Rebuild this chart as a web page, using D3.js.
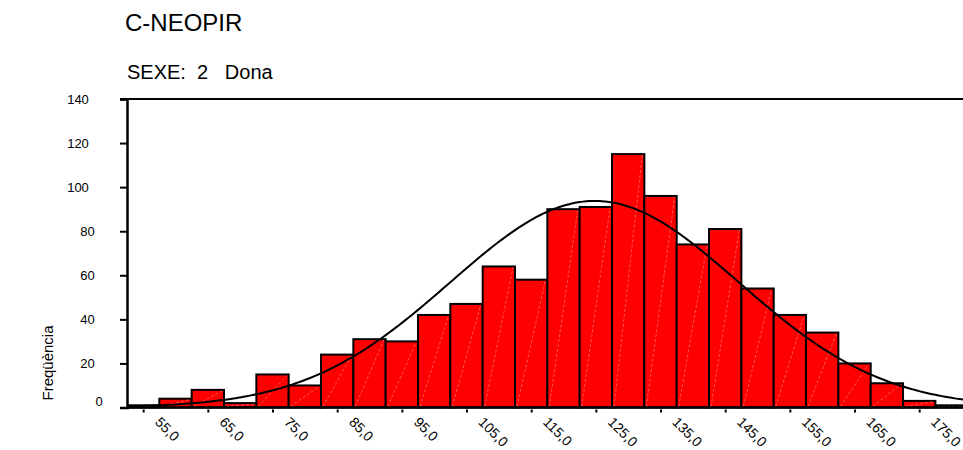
<!DOCTYPE html>
<html>
<head>
<meta charset="utf-8">
<script src="https://cdn.jsdelivr.net/npm/d3@7/dist/d3.min.js"></script>
<style>
  html, body { margin: 0; padding: 0; background: #fff; }
  svg { display: block; font-family: Arial, "Liberation Sans", sans-serif; }
</style>
</head>
<body>
<svg id="chart" width="963" height="450"></svg>
<script>
// ---- data ----
const title = "C-NEOPIR";
const subtitle = "SEXE:  2   Dona";
const yTitle = "Freqüència";
const binCenters = [55, 60, 65, 70, 75, 80, 85, 90, 95, 100, 105, 110, 115, 120, 125, 130, 135, 140, 145, 150, 155, 160, 165, 170, 175, 180];
const counts     = [1, 4, 8, 2, 15, 10, 24, 31, 30, 42, 47, 64, 58, 90, 91, 115, 96, 74, 81, 54, 42, 34, 20, 11, 3, 1];
const binWidth = 5;
const xTickValues = [55, 65, 75, 85, 95, 105, 115, 125, 135, 145, 155, 165, 175];
const yTickValues = [0, 20, 40, 60, 80, 100, 120, 140];
// normal curve parameters (fitted curve shown by the chart)
const curveMean = 124.8;
const curveSD = 22.3;
const curveN = 1048;

// ---- layout ----
const svg = d3.select("#chart");
const W = 963, H = 450;
const mLeft = 127, mTop = 99, mBottom = 407.5;

const x = d3.scaleLinear().domain([52.5, 182.5]).range([mLeft, mLeft + 130 * 6.467]);
const y = d3.scaleLinear().domain([0, 140]).range([mBottom, mTop]);

// titles
svg.append("text").attr("x", 125).attr("y", 31).attr("font-size", 24).attr("fill", "#000").text(title);
svg.append("text").attr("x", 127).attr("y", 79).attr("font-size", 20).attr("fill", "#000")
  .style("white-space", "pre").attr("xml:space", "preserve").text(subtitle);

// y title
svg.append("text").attr("transform", "translate(53,363) rotate(-90)")
  .attr("text-anchor", "middle").attr("font-size", 15).attr("fill", "#000").text(yTitle);

const clip = svg.append("defs").append("clipPath").attr("id", "plotclip");
clip.append("rect").attr("x", mLeft).attr("y", mTop - 5).attr("width", W - mLeft).attr("height", mBottom - mTop + 10);

const plot = svg.append("g").attr("clip-path", "url(#plotclip)");

// bars
const bars = plot.selectAll("g.bar").data(binCenters.map((c, i) => ({c, v: counts[i]}))).join("g").attr("class", "bar");
bars.append("rect")
  .attr("x", d => x(d.c - binWidth / 2))
  .attr("y", d => y(d.v))
  .attr("width", d => x(d.c + binWidth / 2) - x(d.c - binWidth / 2))
  .attr("height", d => y(0) - y(d.v))
  .attr("fill", "#ff0000")
  .attr("stroke", "#000")
  .attr("stroke-width", 2);
bars.append("line")
  .attr("x1", d => x(d.c - binWidth / 2) + 2)
  .attr("y1", d => y(0) - 1)
  .attr("x2", d => x(d.c + binWidth / 2) - 2)
  .attr("y2", d => y(d.v) + 1)
  .attr("stroke", "rgba(255,190,190,0.75)")
  .attr("stroke-width", 0.6)
  .attr("stroke-dasharray", "3,2");

// normal curve
const curvePts = d3.range(52.5, 183, 0.5).map(v => {
  const z = (v - curveMean) / curveSD;
  return [v, curveN * binWidth * Math.exp(-0.5 * z * z) / (curveSD * Math.sqrt(2 * Math.PI))];
});
plot.append("path")
  .attr("d", d3.line().x(d => x(d[0])).y(d => y(d[1])).curve(d3.curveBasis)(curvePts))
  .attr("fill", "none").attr("stroke", "#000").attr("stroke-width", 2);

// frame: top line, bottom axis
svg.append("line").attr("x1", 120).attr("x2", W).attr("y1", y(140)).attr("y2", y(140)).attr("stroke", "#000").attr("stroke-width", 2);
svg.append("line").attr("x1", mLeft).attr("x2", W).attr("y1", y(0)).attr("y2", y(0)).attr("stroke", "#000").attr("stroke-width", 2.5);

// y axis
const yAxis = svg.append("g").attr("transform", `translate(${mLeft},0)`)
  .call(d3.axisLeft(y).tickValues(yTickValues).tickSize(7).tickPadding(25).tickFormat(d3.format("d")));
yAxis.select(".domain").attr("stroke-width", 2.5);
yAxis.selectAll(".tick line").attr("stroke-width", 2);
yAxis.selectAll(".tick text")
  .attr("font-size", 13).attr("font-family", "Arial, 'Liberation Sans', sans-serif").attr("fill", "#000")
  .attr("text-anchor", "middle")
  .attr("x", d => d === 0 ? -28 : (d < 100 ? -39.5 : -49))
  .attr("dy", d => d === 0 ? "-0.15em" : "0.32em");

// x axis
const xAxis = svg.append("g").attr("transform", `translate(0,${y(0)})`)
  .call(d3.axisBottom(x).tickValues(xTickValues).tickSize(5).tickFormat(d => d3.format(".1f")(d).replace(".", ",")));
xAxis.select(".domain").remove();
xAxis.selectAll(".tick line").attr("stroke-width", 2).attr("y1", 2);
xAxis.selectAll(".tick text")
  .attr("font-size", 14).attr("font-family", "Arial, 'Liberation Sans', sans-serif").attr("fill", "#000")
  .attr("text-anchor", "start")
  .attr("transform", "translate(14,12) rotate(45)")
  .attr("x", 0).attr("y", 0).attr("dy", "0.35em");
</script>
</body>
</html>
